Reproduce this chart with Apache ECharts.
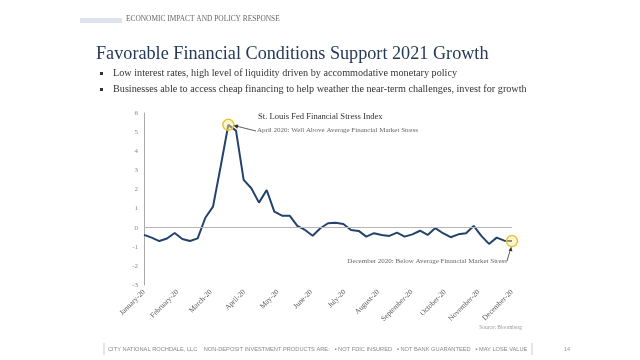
<!DOCTYPE html>
<html>
<head>
<meta charset="utf-8">
<script src="https://cdn.jsdelivr.net/npm/echarts@6/dist/echarts.min.js"></script>
<style>
  html, body { margin: 0; padding: 0; background: #fff; }
  #chart { width: 640px; height: 360px; }
</style>
</head>
<body>
<div id="chart"></div>
<script>
// weekly readings, St. Louis Fed Financial Stress Index, 2020
var weeks = [
    '2020-01-03', '2020-01-10', '2020-01-17', '2020-01-24', '2020-01-31',
    '2020-02-07', '2020-02-14', '2020-02-21', '2020-02-28',
    '2020-03-06', '2020-03-13', '2020-03-20', '2020-03-27',
    '2020-04-03', '2020-04-10', '2020-04-17', '2020-04-24',
    '2020-05-01', '2020-05-08', '2020-05-15', '2020-05-22', '2020-05-29',
    '2020-06-05', '2020-06-12', '2020-06-19', '2020-06-26',
    '2020-07-03', '2020-07-10', '2020-07-17', '2020-07-24', '2020-07-31',
    '2020-08-07', '2020-08-14', '2020-08-21', '2020-08-28',
    '2020-09-04', '2020-09-11', '2020-09-18', '2020-09-25',
    '2020-10-02', '2020-10-09', '2020-10-16', '2020-10-23', '2020-10-30',
    '2020-11-06', '2020-11-13', '2020-11-20', '2020-11-27', '2020-12-04'
];
var stressIndex = [
    -0.38, -0.52, -0.70, -0.57, -0.28, -0.59, -0.70, -0.56, 0.52, 1.10,
    3.20, 5.38, 5.08, 2.50, 2.06, 1.31, 1.97,
    0.84, 0.63, 0.63, 0.09, -0.12, -0.42, -0.03, 0.23, 0.26, 0.19,
    -0.12, -0.17, -0.47, -0.29, -0.38, -0.43,
    -0.26, -0.47, -0.35, -0.16, -0.38, -0.02, -0.29, -0.50, -0.35,
    -0.29, 0.09, -0.43, -0.85, -0.52, -0.68, -0.70
];
var months = [
    'January-20', 'February-20', 'March-20', 'April-20', 'May-20', 'June-20',
    'July-20', 'August-20', 'September-20', 'October-20', 'November-20', 'December-20'
];
var bullets = [
    'Low interest rates, high level of liquidity driven by accommodative monetary policy',
    'Businesses able to access cheap financing to help weather the near-term challenges, invest for growth'
];

var serif = '"Liberation Serif", "DejaVu Serif", serif';
var last = stressIndex.length - 1;

var graphics = [
    // header strip
    { type: 'rect', shape: { x: 80, y: 18, width: 42, height: 5 }, style: { fill: '#dfe3ef' } },
    { type: 'text', left: 126, top: 16, style: { text: 'ECONOMIC IMPACT AND POLICY RESPONSE', font: '7.4px ' + serif, fill: '#666' } },
    { type: 'text', left: 96, top: 45, style: { text: 'Favorable Financial Conditions Support 2021 Growth', font: '18.2px ' + serif, fill: '#243a56' } },
    // chart annotations
    { type: 'text', left: 258, top: 112, style: { text: 'St. Louis Fed Financial Stress Index', font: '8.6px ' + serif, fill: '#333' } },
    { type: 'text', left: 257, top: 127, style: { text: 'April 2020: Well Above Average Financial Market Stress', font: '7px ' + serif, fill: '#666' } },
    { type: 'line', shape: { x1: 256, y1: 131, x2: 236, y2: 126 }, style: { stroke: '#333', lineWidth: 0.8 } },
    { type: 'polygon', shape: { points: [[233, 125.3], [238.5, 124.6], [237.4, 128.8]] }, style: { fill: '#333' } },
    { type: 'text', right: 133, top: 258, style: { text: 'December 2020: Below Average Financial Market Stress', font: '7px ' + serif, fill: '#666', align: 'right' } },
    { type: 'line', shape: { x1: 507, y1: 261, x2: 510.5, y2: 249 }, style: { stroke: '#333', lineWidth: 0.8 } },
    { type: 'polygon', shape: { points: [[511.3, 246.5], [512.4, 251.5], [508.6, 250.5]] }, style: { fill: '#333' } },
    // footer
    { type: 'text', right: 118, top: 325, style: { text: 'Source: Bloomberg', font: '5.5px ' + serif, fill: '#999', align: 'right' } },
    { type: 'line', shape: { x1: 104, y1: 343, x2: 104, y2: 355 }, style: { stroke: '#aaa', lineWidth: 0.6 } },
    { type: 'line', shape: { x1: 532, y1: 343, x2: 532, y2: 355 }, style: { stroke: '#aaa', lineWidth: 0.6 } },
    { type: 'text', left: 108, top: 346, style: {
        text: 'CITY NATIONAL ROCHDALE, LLC    NON-DEPOSIT INVESTMENT PRODUCTS ARE:   \u25AA NOT FDIC INSURED   \u25AA NOT BANK GUARANTEED   \u25AA MAY LOSE VALUE',
        font: '5.7px "Liberation Sans", sans-serif', fill: '#888' } },
    { type: 'text', left: 564, top: 346, style: { text: '14', font: '5.5px "Liberation Sans", sans-serif', fill: '#999' } }
];
bullets.forEach(function (b, i) {
    graphics.push({ type: 'rect', shape: { x: 100, y: 72 + i * 16, width: 3, height: 3 }, style: { fill: '#333' } });
    graphics.push({ type: 'text', left: 113, top: 68 + i * 16, style: { text: b, font: '10.2px ' + serif, fill: '#333' } });
});

var ringStyle = {
    color: 'rgba(255, 236, 150, 0.45)',
    borderColor: '#e6c53a',
    borderWidth: 1.5
};

var option = {
    animation: false,
    backgroundColor: '#fff',
    grid: { left: 144, right: 128, top: 113, bottom: 75 },
    xAxis: [
        {
            type: 'category',
            data: weeks,
            boundaryGap: false,
            axisLine: { show: false },
            axisTick: { show: false },
            axisLabel: { show: false },
            splitLine: { show: false }
        },
        {
            type: 'category',
            data: months,
            boundaryGap: false,
            position: 'bottom',
            axisLine: { show: false, onZero: false },
            axisTick: { show: false },
            splitLine: { show: false },
            axisLabel: {
                rotate: 45,
                margin: 6,
                interval: 0,
                fontFamily: serif,
                fontSize: 7.4,
                color: '#555'
            }
        }
    ],
    yAxis: {
        type: 'value',
        min: -3,
        max: 6,
        interval: 1,
        axisLine: { show: true, lineStyle: { color: '#aaa', width: 1 } },
        axisTick: { show: false },
        splitLine: { show: false },
        axisLabel: { fontFamily: serif, fontSize: 7, color: '#888', margin: 6 }
    },
    graphic: graphics,
    series: [{
        type: 'line',
        xAxisIndex: 0,
        data: stressIndex,
        showSymbol: false,
        lineStyle: { color: '#23436b', width: 2 },
        markLine: {
            silent: true,
            symbol: 'none',
            label: { show: false },
            lineStyle: { color: '#b5b5b5', type: 'solid', width: 1.2 },
            data: [{ yAxis: 0 }]
        },
        markPoint: {
            symbol: 'circle',
            symbolSize: 11,
            label: { show: false },
            itemStyle: ringStyle,
            data: [
                { type: 'max' },
                { coord: [weeks[last], stressIndex[last]] }
            ]
        }
    }]
};

var chart = echarts.init(document.getElementById('chart'));
chart.setOption(option);
</script>
</body>
</html>
